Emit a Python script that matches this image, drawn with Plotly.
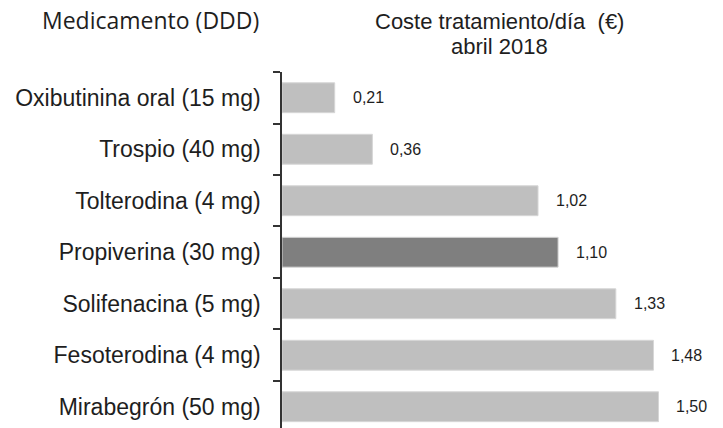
import plotly.graph_objects as go

# Daily treatment cost per drug (DDD), April 2018
medicamentos = [
    "Oxibutinina oral (15 mg)",
    "Trospio (40 mg)",
    "Tolterodina (4 mg)",
    "Propiverina (30 mg)",
    "Solifenacina (5 mg)",
    "Fesoterodina (4 mg)",
    "Mirabegrón (50 mg)",
]
coste_dia = [0.21, 0.36, 1.02, 1.10, 1.33, 1.48, 1.50]
destacado = "Propiverina (30 mg)"

LIGHT = "#bfbfbf"
DARK = "#7f7f7f"
TEXT = "#1e1e1e"

colores = [DARK if m == destacado else LIGHT for m in medicamentos]
etiquetas = [f"{v:.2f}".replace(".", ",") for v in coste_dia]

fig = go.Figure(
    go.Bar(
        x=coste_dia,
        y=medicamentos,
        orientation="h",
        marker=dict(color=colores, line=dict(color="#d6d6d6", width=1)),
        width=0.58,
        hoverinfo="skip",
    )
)

# value labels just right of each bar
for m, v, t in zip(medicamentos, coste_dia, etiquetas):
    fig.add_annotation(
        x=v, y=m, xref="x", yref="y", text=t, showarrow=False,
        xanchor="left", yanchor="middle", xshift=16,
        font=dict(family="Liberation Sans, Arial", size=16, color=TEXT),
    )

# column headers
fig.add_annotation(
    x=-0.299, y=1.146, xref="paper", yref="paper", text="Medicamento (DDD)",
    showarrow=False, xanchor="center", yanchor="middle",
    font=dict(family="Open Sans", size=23, color=TEXT),
)
fig.add_annotation(
    x=0.494, y=1.143, xref="paper", yref="paper",
    text="Coste tratamiento/día\u00a0 (€)",
    showarrow=False, xanchor="center", yanchor="middle",
    font=dict(family="Liberation Sans, Arial", size=22, color=TEXT),
)
fig.add_annotation(
    x=0.494, y=1.073, xref="paper", yref="paper", text="abril 2018",
    showarrow=False, xanchor="center", yanchor="middle",
    font=dict(family="Liberation Sans, Arial", size=22, color=TEXT),
)

fig.update_layout(
    width=723,
    height=428,
    margin=dict(l=282, r=0, t=72, b=0),
    paper_bgcolor="white",
    plot_bgcolor="white",
    showlegend=False,
    xaxis=dict(
        range=[0, 1.757], visible=False, fixedrange=True,
    ),
    yaxis=dict(
        type="category",
        range=[6.413, -0.5],
        showline=True, linecolor="#333333", linewidth=1.5,
        ticks="outside", tickson="boundaries", ticklen=7,
        tickcolor="#333333", tickwidth=1.5,
        ticklabelstandoff=15,
        showgrid=False, zeroline=False,
        tickfont=dict(family="Liberation Sans, Arial", size=23, color=TEXT),
        fixedrange=True,
    ),
)

fig.write_html("out.html")
